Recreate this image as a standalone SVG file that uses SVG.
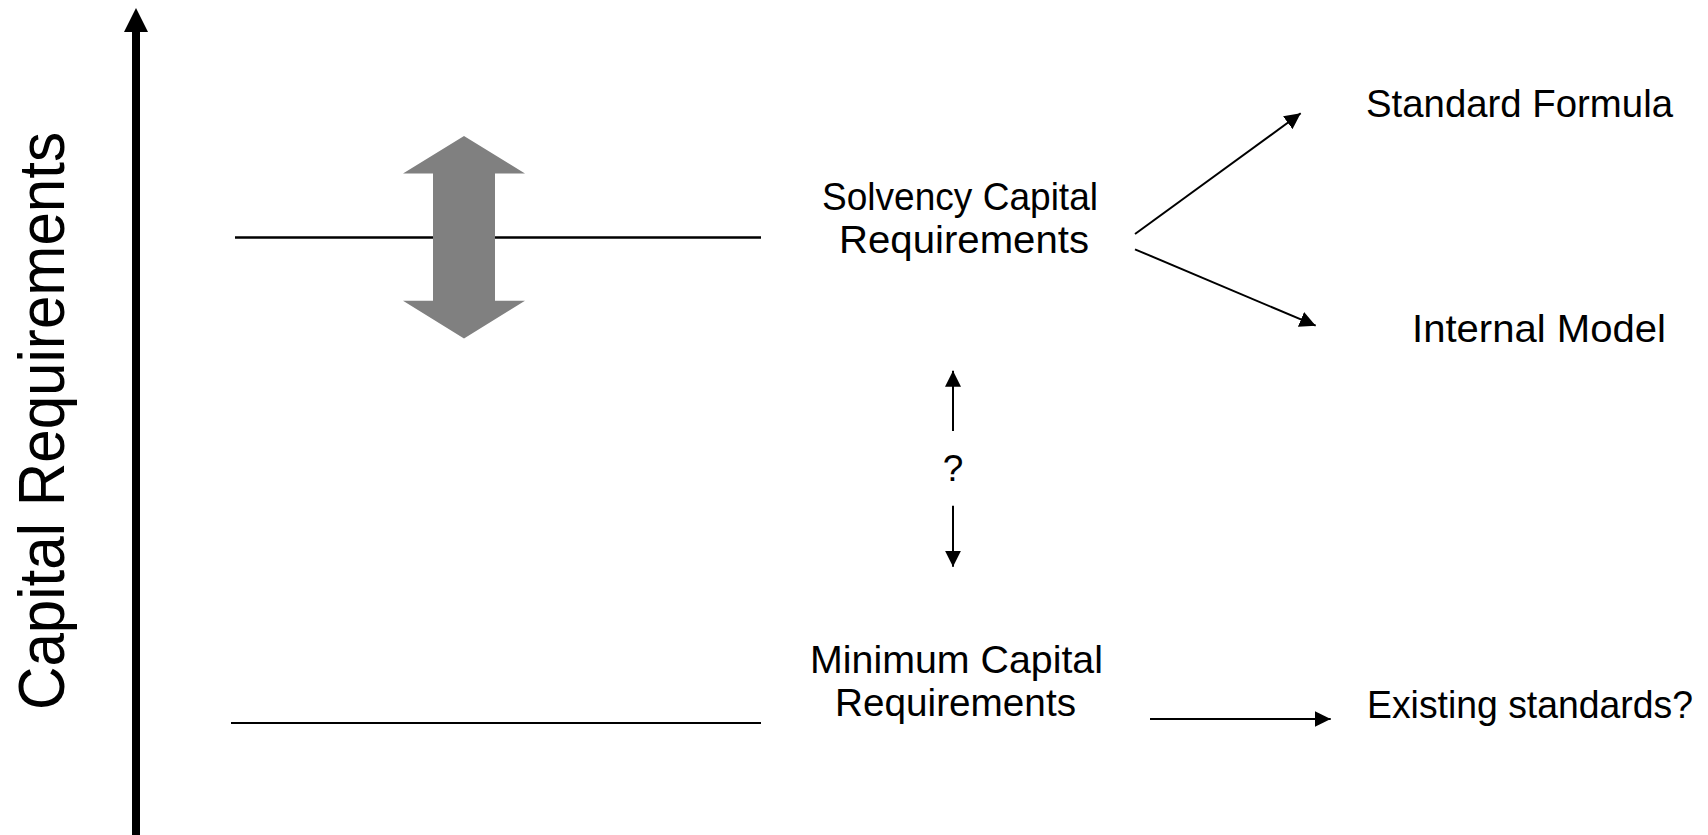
<svg xmlns="http://www.w3.org/2000/svg" width="1708" height="835" viewBox="0 0 1708 835">
  <style>
    .lbl { font-family: "Liberation Sans", Arial, sans-serif; font-size: 39px; fill: #000; }
    .axis-title { font-family: "Liberation Sans", Arial, sans-serif; font-size: 64px; fill: #000; }
    .q { font-family: "Liberation Sans", Arial, sans-serif; font-size: 37px; fill: #000; text-anchor: middle; }
    .level { stroke: #000; fill: none; }
    .conn { stroke: #000; stroke-width: 2; fill: none; }
  </style>
  <defs>
    <marker id="head" markerUnits="userSpaceOnUse" markerWidth="18" markerHeight="16" refX="16" refY="8" orient="auto">
      <path d="M0,0 L16,8 L0,16 z" fill="#000"/>
    </marker>
  </defs>

  <rect width="1708" height="835" fill="#fff"/>

  <!-- vertical axis -->
  <g id="axis">
    <line x1="136" y1="835" x2="136" y2="30" stroke="#000" stroke-width="8"/>
    <polygon points="136,8 148,32 124,32" fill="#000"/>
    <text class="axis-title" transform="translate(64,710) rotate(-90)" textLength="578" lengthAdjust="spacingAndGlyphs">Capital Requirements</text>
  </g>

  <!-- requirement levels -->
  <g id="scr-level">
    <line class="level" x1="235" y1="237.5" x2="761" y2="237.5" stroke-width="2.6"/>
  </g>
  <g id="mcr-level">
    <line class="level" x1="231" y1="723" x2="761" y2="723" stroke-width="2"/>
  </g>

  <!-- grey double arrow: range of movement -->
  <g id="range-arrow">
    <polygon points="464,136 525,173.5 495,173.5 495,300.7 525,300.7 464,338.5 403,300.7 433,300.7 433,173.5 403,173.5" fill="#808080"/>
  </g>

  <g id="scr">
    <text class="lbl" x="822" y="209.5" textLength="276" lengthAdjust="spacingAndGlyphs">Solvency Capital</text>
    <text class="lbl" x="839" y="252.5" textLength="250" lengthAdjust="spacingAndGlyphs">Requirements</text>
  </g>

  <g id="mcr">
    <text class="lbl" x="810" y="673.3" textLength="293" lengthAdjust="spacingAndGlyphs">Minimum Capital</text>
    <text class="lbl" x="835" y="715.7" textLength="241" lengthAdjust="spacingAndGlyphs">Requirements</text>
  </g>

  <g id="standard-formula">
    <text class="lbl" x="1366" y="116.7" textLength="307" lengthAdjust="spacingAndGlyphs">Standard Formula</text>
  </g>

  <g id="internal-model">
    <text class="lbl" x="1412" y="341.7" textLength="254" lengthAdjust="spacingAndGlyphs">Internal Model</text>
  </g>

  <g id="existing-standards">
    <text class="lbl" x="1367" y="718.3" textLength="326" lengthAdjust="spacingAndGlyphs">Existing standards?</text>
  </g>

  <g id="unknown-link">
    <text class="q" x="953" y="481">?</text>
  </g>

  <!-- connectors -->
  <g id="connectors">
    <line class="conn" x1="1135" y1="234" x2="1300.7" y2="113.3" marker-end="url(#head)"/>
    <line class="conn" x1="1135" y1="249.3" x2="1315.7" y2="325.7" marker-end="url(#head)"/>
    <line class="conn" x1="953" y1="431" x2="953" y2="370.7" marker-end="url(#head)"/>
    <line class="conn" x1="953" y1="505.7" x2="953" y2="566.7" marker-end="url(#head)"/>
    <line class="conn" x1="1150" y1="719" x2="1330.7" y2="719" stroke-width="3" marker-end="url(#head)"/>
  </g>
</svg>
